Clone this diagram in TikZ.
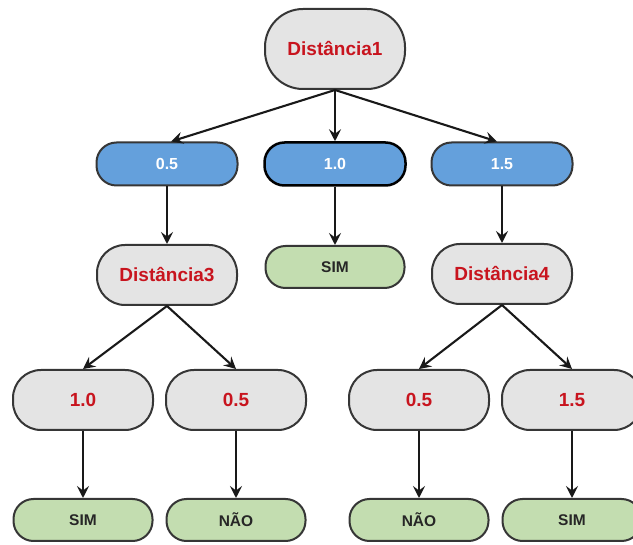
\documentclass[tikz,border=0pt]{standalone}
\usepackage{fontspec}
\setmainfont{Liberation Sans}
\usetikzlibrary{arrows.meta}
\definecolor{edgegray}{HTML}{363636}
\definecolor{fillgray}{HTML}{E4E4E4}
\definecolor{fillblue}{HTML}{64A0DC}
\definecolor{fillgreen}{HTML}{C3DDB0}
\definecolor{txtred}{HTML}{C8141E}
\tikzset{
  pill/.style={draw=edgegray, line width=2pt, rectangle, inner sep=0pt,
    font=\bfseries},
  attr/.style={pill, fill=fillgray, text=txtred, minimum width=140pt,
    font=\fontsize{19}{21}\selectfont\bfseries},
  root/.style={attr, minimum height=80pt, rounded corners=38pt},
  split/.style={attr, minimum height=60pt, rounded corners=28pt},
  val/.style={pill, fill=fillblue, text=white, minimum width=141pt,
    minimum height=43pt, rounded corners=20pt,
    font=\fontsize{16}{18}\selectfont\bfseries},
  leaf/.style={pill, fill=fillgreen, text=black!85, minimum width=139pt,
    minimum height=42pt, rounded corners=20pt,
    font=\fontsize{15.5}{18}\selectfont\bfseries},
  link/.style={line width=2.1pt, draw=black!90,
    -{Stealth[length=12pt,width=12pt,inset=4.5pt]}}
}
\begin{document}
\begin{tikzpicture}[x=1pt,y=-1pt]
  \useasboundingbox (0,0) rectangle (633,545);
  \clip (0,0) rectangle (633,545);

  % root split
  \node[root] (d1) at (335,49) {Distância1};

  % values of Distância1
  \node[val] (v05) at (167,164) {0.5};
  \node[val, draw=black, line width=2.5pt] (v10) at (335,164) {1.0};
  \node[val] (v15) at (502,164) {1.5};

  % second level
  \node[split] (d3) at (167,275) {Distância3};
  \node[leaf] (s1) at (335,267) {SIM};
  \node[split] (d4) at (502,274) {Distância4};

  % values of Distância3 and Distância4
  \node[split] (a10) at (83,400) {1.0};
  \node[split] (a05) at (236,400) {0.5};
  \node[split] (b05) at (419,400) {0.5};
  \node[split] (b15) at (572,400) {1.5};

  % outcomes
  \node[leaf] (s2) at (83,520) {SIM};
  \node[leaf] (n1) at (236,520) {NÃO};
  \node[leaf] (n2) at (419,520) {NÃO};
  \node[leaf] (s3) at (572,520) {SIM};

  % connectors
  \draw[link] (d1.south) -- ([xshift=4pt]v05.north);
  \draw[link] (d1.south) -- (v10.north);
  \draw[link] (d1.south) -- ([xshift=-5pt]v15.north);

  \draw[link] (v05.south) -- (d3.north);
  \draw[link] (v10.south) -- (s1.north);
  \draw[link] (v15.south) -- (d4.north);

  \draw[link] (d3.south) -- (a10.north);
  \draw[link] (d3.south) -- (a05.north);
  \draw[link] (d4.south) -- (b05.north);
  \draw[link] (d4.south) -- (b15.north);

  \draw[link] (a10.south) -- (s2.north);
  \draw[link] (a05.south) -- (n1.north);
  \draw[link] (b05.south) -- (n2.north);
  \draw[link] (b15.south) -- (s3.north);
\end{tikzpicture}
\end{document}
